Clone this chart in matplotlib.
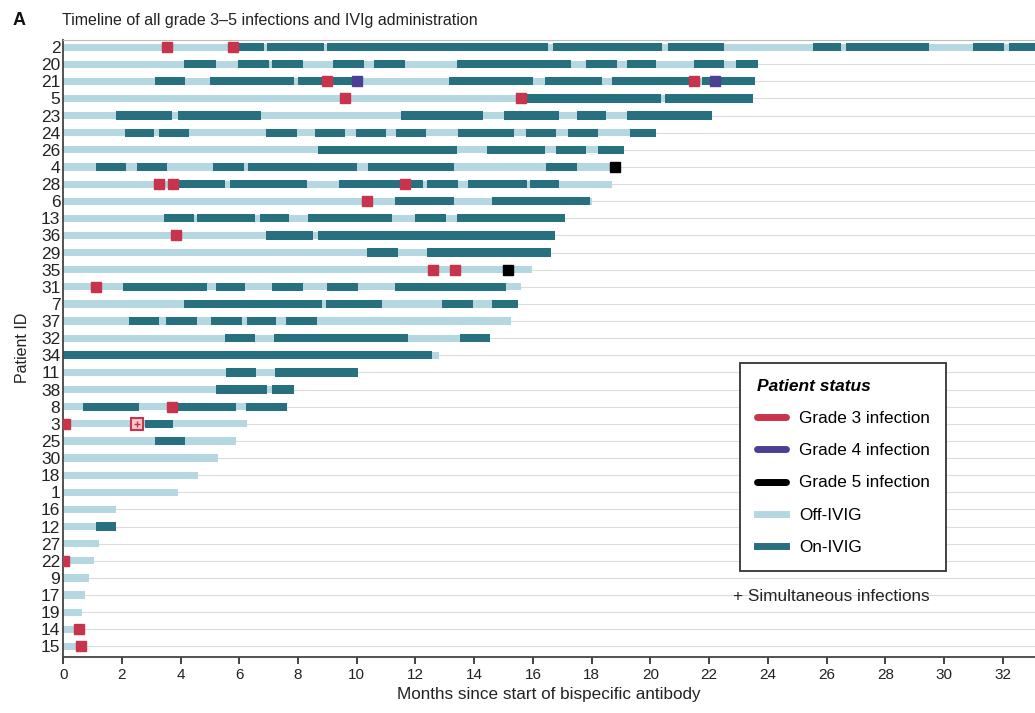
import matplotlib
matplotlib.use("Agg")
import matplotlib.pyplot as plt
from matplotlib.lines import Line2D

plt.rcParams["font.family"] = ["Liberation Sans", "DejaVu Sans"]

COLORS = {
    "off": "#b4d7e1",
    "on": "#26707f",
    "g3": "#c8344c",
    "g4": "#4b3f96",
    "g5": "#000000",
    "grid": "#dcdcdc",
    "text": "#222222",
}

# ── Data (months since start of bispecific antibody) ─────────────────────────

patient_ids = [2, 20, 21, 5, 23, 24, 26, 4, 28, 6, 13, 36, 29, 35, 31, 7, 37, 32,
               34, 11, 38, 8, 3, 25, 30, 18, 1, 16, 12, 27, 22, 9, 17, 19, 14, 15]

followup_end = [34.0, 23.65, 23.55, 23.5, 22.1, 20.2, 19.1, 18.9, 18.7, 18.0, 17.1,
                16.75, 16.6, 15.97, 15.6, 15.5, 15.25, 14.55, 12.8, 10.05, 7.85, 7.63,
                6.25, 5.9, 5.27, 4.6, 3.9, 1.81, 1.81, 1.23, 1.06, 0.89, 0.75, 0.65,
                0.62, 0.68]

on_ivig = [
    [(5.94, 6.83), (6.96, 8.87), (9.0, 16.5), (16.7, 20.4), (20.6, 22.5),
     (25.55, 26.5), (26.65, 29.5), (31.0, 32.05), (32.2, 34.0)],
    [(4.13, 5.2), (5.97, 7.0), (7.13, 8.16), (9.2, 10.24), (10.6, 11.64),
     (13.4, 17.3), (17.8, 18.85), (19.2, 20.2), (21.5, 22.5), (22.9, 23.65)],
    [(3.14, 4.16), (5.0, 7.85), (8.0, 10.2), (13.15, 16.0), (16.4, 18.35),
     (18.7, 21.6), (21.75, 23.55)],
    [(15.8, 20.35), (20.5, 23.5)],
    [(1.8, 3.7), (3.9, 6.75), (11.5, 14.3), (15.0, 16.9), (17.5, 18.5), (19.2, 22.1)],
    [(2.1, 3.1), (3.25, 4.27), (6.9, 7.95), (8.57, 9.6), (9.97, 11.0), (11.35, 12.35),
     (13.45, 15.35), (15.77, 16.8), (17.2, 18.2), (19.3, 20.2)],
    [(8.67, 13.4), (14.45, 16.4), (16.8, 17.8), (18.2, 19.1)],
    [(1.13, 2.15), (2.5, 3.55), (5.1, 6.15), (6.3, 10.0), (10.4, 13.3), (16.45, 17.5)],
    [(3.95, 5.5), (5.7, 8.3), (9.4, 12.25), (12.4, 13.45), (13.8, 15.8), (15.9, 16.9)],
    [(11.3, 13.3), (14.6, 17.95)],
    [(3.45, 4.45), (4.57, 6.55), (6.7, 7.7), (8.33, 11.2), (12.0, 13.05), (13.4, 17.1)],
    [(6.9, 8.5), (8.67, 16.75)],
    [(10.35, 11.4), (12.4, 16.6)],
    [],
    [(2.05, 4.9), (5.2, 6.2), (7.13, 8.16), (9.0, 10.05), (11.3, 15.1)],
    [(4.1, 8.8), (8.95, 10.85), (12.9, 13.95), (14.6, 15.5)],
    [(2.25, 3.28), (3.5, 4.55), (5.05, 6.1), (6.25, 7.25), (7.6, 8.63)],
    [(5.5, 6.55), (7.17, 11.75), (13.5, 14.55)],
    [(0.0, 12.55)],
    [(5.55, 6.57), (7.2, 10.05)],
    [(5.2, 6.94), (7.1, 7.85)],
    [(0.66, 2.6), (3.85, 5.9), (6.24, 7.63)],
    [(2.8, 3.75)],
    [(3.14, 4.16)],
    [], [], [], [],
    [(1.12, 1.81)],
    [], [], [], [], [], [], [],
]

# (patient, month)
grade3 = [(2, 3.55), (2, 5.8), (21, 9.0), (21, 21.5), (5, 9.6), (5, 15.6),
          (28, 3.25), (28, 3.75), (28, 11.65), (6, 10.35), (36, 3.85), (35, 12.6),
          (35, 13.35), (31, 1.13), (8, 3.7), (3, 0.07), (22, 0.03), (14, 0.55),
          (15, 0.6)]
grade4 = [(21, 10.0), (21, 22.2)]
grade5 = [(4, 18.8), (35, 15.15)]
simultaneous = [(3, 2.5)]

# ── Plot ──────────────────────────────────────────────────────────────────────

fig = plt.figure(figsize=(10.35, 7.13), dpi=100, facecolor="white")
ax = fig.add_axes([0.061, 0.079, 0.939, 0.865])

rows = {pid: i for i, pid in enumerate(patient_ids)}

for i, pid in enumerate(patient_ids):
    ax.axhline(i, color=COLORS["grid"], lw=0.8, zorder=0)
    ax.barh(i, followup_end[i], left=0, height=0.42, color=COLORS["off"],
            linewidth=0, zorder=1)
    for start, end in on_ivig[i]:
        ax.barh(i, end - start, left=start, height=0.48, color=COLORS["on"],
                linewidth=0, zorder=2)

for pts, col in [(grade3, COLORS["g3"]), (grade4, COLORS["g4"]), (grade5, COLORS["g5"])]:
    ax.plot([m for _, m in pts], [rows[p] for p, _ in pts], "s", ms=6.5,
            color=col, mec=col, zorder=3, linestyle="none")

for p, m in simultaneous:
    ax.plot(m, rows[p], "s", ms=8, mfc="#f3c9d0", mec=COLORS["g3"], mew=1.5, zorder=3)
    ax.plot(m, rows[p], "+", ms=5, color=COLORS["g3"], mew=1.0, zorder=4)

ax.set_xlim(0, 33.1)
ax.set_ylim(len(patient_ids) - 0.4, -0.42)
ax.set_yticks(range(len(patient_ids)))
ax.set_yticklabels([str(p) for p in patient_ids], fontsize=12.5, color=COLORS["text"])
ax.set_xticks(range(0, 33, 2))
ax.tick_params(axis="x", labelsize=11, colors=COLORS["text"], length=5, width=1.2)
ax.tick_params(axis="y", length=0, pad=2)

for side in ["left", "bottom"]:
    ax.spines[side].set_color("#444444")
    ax.spines[side].set_linewidth(1.3)
ax.spines["top"].set_color("#bbbbbb")
ax.spines["right"].set_visible(False)

ax.set_xlabel("Months since start of bispecific antibody", fontsize=12.3,
              color=COLORS["text"], labelpad=3)
ax.set_ylabel("Patient ID", fontsize=11.5, color=COLORS["text"], labelpad=8)

fig.text(0.012, 0.965, "A", fontsize=13, fontweight="bold", color="#111111")
fig.text(0.06, 0.965, "Timeline of all grade 3\u20135 infections and IVIg administration",
         fontsize=11.5, color=COLORS["text"])

handles = [
    Line2D([0], [0], color=COLORS["g3"], lw=5, solid_capstyle="round"),
    Line2D([0], [0], color=COLORS["g4"], lw=5, solid_capstyle="round"),
    Line2D([0], [0], color=COLORS["g5"], lw=5, solid_capstyle="round"),
    Line2D([0], [0], color=COLORS["off"], lw=5),
    Line2D([0], [0], color=COLORS["on"], lw=5),
]
labels = ["Grade 3 infection", "Grade 4 infection", "Grade 5 infection",
          "Off-IVIG", "On-IVIG"]
leg = ax.legend(handles, labels, loc="upper left", bbox_to_anchor=(0.688, 0.49),
                title="Patient status", fontsize=12.3, labelspacing=1.0,
                handlelength=1.7, handletextpad=0.8, borderpad=0.95,
                fancybox=False, edgecolor="#333333", framealpha=1,
                alignment="left")
leg.get_frame().set_linewidth(1.3)
leg.get_title().set_fontweight("bold")
leg.get_title().set_fontstyle("italic")
leg.get_title().set_fontsize(12.5)

ax.text(0.689, 0.098, "+ Simultaneous infections", transform=ax.transAxes,
        fontsize=12.3, color=COLORS["text"], va="center")

fig.savefig("out.png", dpi=100, facecolor="white")
